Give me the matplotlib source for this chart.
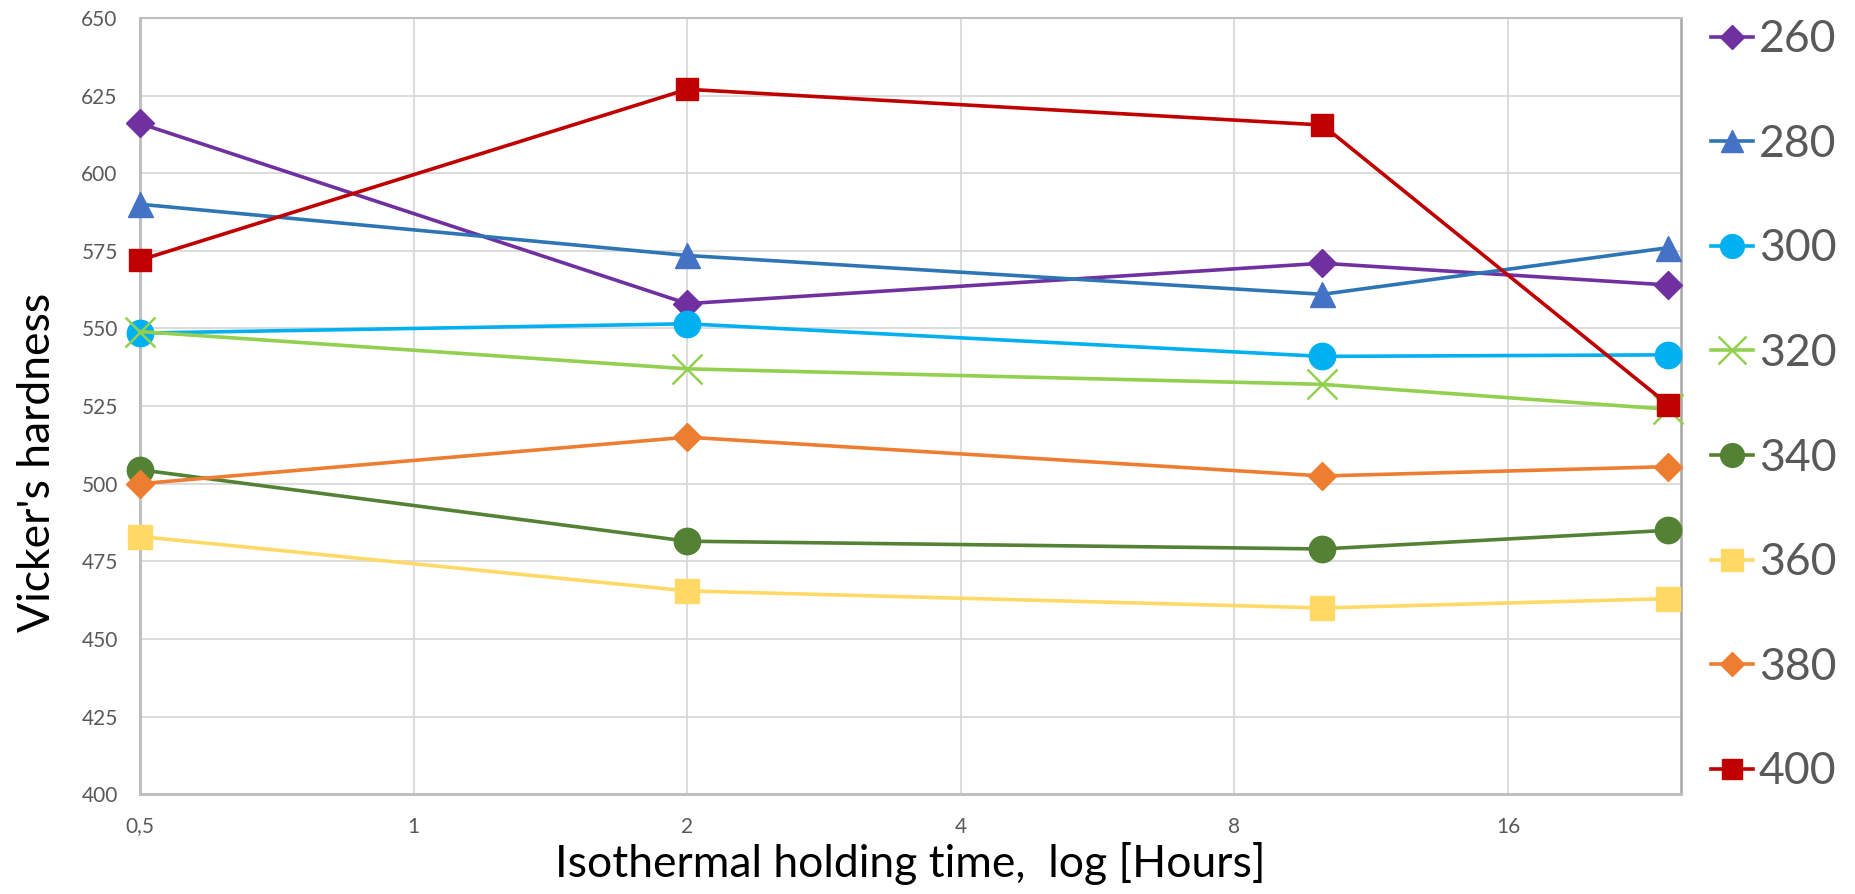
import matplotlib
matplotlib.use("Agg")
import matplotlib.pyplot as plt
from matplotlib.ticker import FixedLocator, FixedFormatter, NullLocator

plt.rcParams['font.family'] = ['Lato', 'DejaVu Sans']

# Holding times (hours) and hardness per isothermal temperature
hours = [0.5, 2, 10, 24]
series_labels = ['260', '280', '300', '320', '340', '360', '380', '400']
hv_260 = [616, 558, 571, 564]
hv_280 = [590, 573.5, 561, 576]
hv_300 = [548.5, 551.5, 541, 541.5]
hv_320 = [549, 537, 532, 524]
hv_340 = [504.5, 481.5, 479, 485]
hv_360 = [483, 465.5, 460, 463]
hv_380 = [500, 515, 502.5, 505.5]
hv_400 = [572, 627, 615.5, 525.5]

x_ticks = [0.5, 1, 2, 4, 8, 16]
x_tick_labels = ['0,5', '1', '2', '4', '8', '16']
y_ticks = [400, 425, 450, 475, 500, 525, 550, 575, 600, 625, 650]

styles = [
    dict(color='#7030A0', mfc='#7030A0', marker='D', ms=14),
    dict(color='#2E75B6', mfc='#4472C4', marker='^', ms=18),
    dict(color='#00B0F0', mfc='#00B0F0', marker='o', ms=19),
    dict(color='#92D050', mfc='none', mec='#92D050', marker='x', ms=22, mew=1.8),
    dict(color='#548235', mfc='#548235', marker='o', ms=19),
    dict(color='#FFD966', mfc='#FFD966', marker='s', ms=17),
    dict(color='#ED7D31', mfc='#ED7D31', marker='D', ms=14),
    dict(color='#C00000', mfc='#C00000', marker='s', ms=16),
]
values = [hv_260, hv_280, hv_300, hv_320, hv_340, hv_360, hv_380, hv_400]

fig = plt.figure(figsize=(18.56, 8.94), dpi=100)
ax = fig.add_axes([0.0754, 0.1115, 0.8303, 0.8685])

for lab, vals, st in zip(series_labels, values, styles):
    st = dict(st)
    if 'mec' not in st:
        st['mec'] = st['mfc']
    ax.plot(hours, vals, lw=2.6, label=lab, clip_on=False, zorder=3, **st)

ax.set_xscale('log', base=2)
ax.set_xlim(0.5, 24.8)
ax.set_ylim(400, 650)
ax.xaxis.set_major_locator(FixedLocator(x_ticks))
ax.xaxis.set_major_formatter(FixedFormatter(x_tick_labels))
ax.xaxis.set_minor_locator(NullLocator())
ax.set_yticks(y_ticks)

ax.grid(True, color='#D9D9D9', lw=1.3, zorder=0)
ax.set_axisbelow(True)
for side in ['left', 'bottom']:
    ax.spines[side].set_color('#BFBFBF')
    ax.spines[side].set_linewidth(2.2)
ax.spines['right'].set_color('#A6A6A6')
ax.spines['right'].set_linewidth(1.8)
ax.spines['top'].set_color('#BFBFBF')
ax.spines['top'].set_linewidth(1.5)

ax.tick_params(axis='both', length=0, labelsize=15, labelcolor='#595959')
ax.tick_params(axis='x', pad=16)
ax.tick_params(axis='y', pad=16)

ax.set_xlabel('Isothermal holding time,  log [Hours]', fontsize=32, color='black', labelpad=4)
ax.set_ylabel("Vicker's hardness", fontsize=32, color='black')
ax.yaxis.set_label_coords(-0.0532, 0.428)

leg = ax.legend(loc='upper left', bbox_to_anchor=(1.008, 1.021), frameon=False,
                fontsize=32, handlelength=0.95, handletextpad=0.12,
                labelspacing=1.43, borderaxespad=0, markerscale=0.9)
for t in leg.get_texts():
    t.set_color('#595959')

fig.savefig('out.png', dpi=100)
